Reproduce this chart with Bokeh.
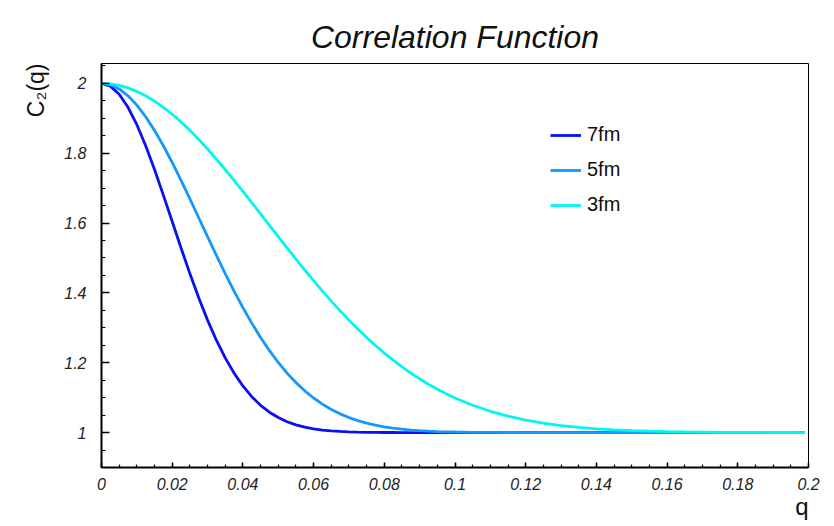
from bokeh.plotting import figure
from bokeh.models import Range1d, FixedTicker, Legend, LegendItem, Title
from bokeh.embed import file_html
from bokeh.resources import INLINE

# ---------------- data ----------------
q = [0, 0.0025, 0.005, 0.0075, 0.01, 0.0125, 0.015, 0.0175, 0.02, 0.0225,
     0.025, 0.0275, 0.03, 0.0325, 0.035, 0.0375, 0.04, 0.0425, 0.045, 0.0475,
     0.05, 0.0525, 0.055, 0.0575, 0.06, 0.0625, 0.065, 0.0675, 0.07, 0.0725,
     0.075, 0.0775, 0.08, 0.0825, 0.085, 0.0875, 0.09, 0.0925, 0.095, 0.0975,
     0.1, 0.105, 0.11, 0.115, 0.12, 0.125, 0.13, 0.135, 0.14, 0.145,
     0.15, 0.155, 0.16, 0.165, 0.17, 0.175, 0.18, 0.185, 0.19, 0.195, 0.199]

c2_7fm = [2.0, 1.9922, 1.9690, 1.9316, 1.8817, 1.8214, 1.7533, 1.6801, 1.6044, 1.5287,
          1.4553, 1.3860, 1.3221, 1.2646, 1.2140, 1.1703, 1.1335, 1.1029, 1.0782, 1.0584,
          1.0430, 1.0311, 1.0222, 1.0156, 1.0108, 1.0073, 1.0049, 1.0032, 1.0021, 1.0013,
          1.0008, 1.0005, 1.0003, 1.0002, 1.0001, 1.0001, 1.0, 1.0, 1.0, 1.0,
          1.0, 1.0, 1.0, 1.0, 1.0, 1.0, 1.0, 1.0, 1.0, 1.0,
          1.0, 1.0, 1.0, 1.0, 1.0, 1.0, 1.0, 1.0, 1.0, 1.0, 1.0]

c2_5fm = [2.0, 1.9960, 1.9841, 1.9645, 1.9378, 1.9045, 1.8655, 1.8215, 1.7735, 1.7225,
          1.6694, 1.6153, 1.5610, 1.5075, 1.4554, 1.4053, 1.3579, 1.3135, 1.2724, 1.2348,
          1.2008, 1.1703, 1.1433, 1.1196, 1.0991, 1.0814, 1.0663, 1.0536, 1.0430, 1.0342,
          1.0270, 1.0211, 1.0164, 1.0126, 1.0097, 1.0073, 1.0055, 1.0041, 1.0030, 1.0022,
          1.0016, 1.0008, 1.0004, 1.0002, 1.0001, 1.0, 1.0, 1.0, 1.0, 1.0,
          1.0, 1.0, 1.0, 1.0, 1.0, 1.0, 1.0, 1.0, 1.0, 1.0, 1.0]

c2_3fm = [2.0, 1.9986, 1.9942, 1.9871, 1.9771, 1.9645, 1.9493, 1.9316, 1.9117, 1.8895,
          1.8655, 1.8396, 1.8121, 1.7833, 1.7534, 1.7224, 1.6908, 1.6586, 1.6261, 1.5935,
          1.5610, 1.5287, 1.4969, 1.4656, 1.4350, 1.4053, 1.3765, 1.3487, 1.3221, 1.2966,
          1.2724, 1.2494, 1.2277, 1.2073, 1.1882, 1.1703, 1.1537, 1.1383, 1.1241, 1.1110,
          1.0991, 1.0782, 1.0610, 1.0470, 1.0358, 1.0270, 1.0201, 1.0148, 1.0108, 1.0077,
          1.0055, 1.0039, 1.0027, 1.0018, 1.0013, 1.0008, 1.0006, 1.0004, 1.0002, 1.0002, 1.0001]

series_names = ["7fm", "5fm", "3fm"]
series_colors = ["#0a10f2", "#1597fb", "#00f5f5"]

x_ticks = [0, 0.02, 0.04, 0.06, 0.08, 0.1, 0.12, 0.14, 0.16, 0.18, 0.2]
x_tick_labels = ["0", "0.02", "0.04", "0.06", "0.08", "0.1", "0.12", "0.14", "0.16", "0.18", "0.2"]
y_ticks = [1, 1.2, 1.4, 1.6, 1.8, 2]
y_tick_labels = ["1", "1.2", "1.4", "1.6", "1.8", "2"]

title_text = "Correlation Function"
x_label = "q"
y_label = "C\u2082(q)"

# ---------------- figure ----------------
FONT = "Liberation Sans"

p = figure(width=834, height=526, output_backend="svg", toolbar_location=None,
           x_range=Range1d(0, 0.2), y_range=Range1d(0.9, 2.057),
           min_border_left=101, min_border_right=26, min_border_top=63, min_border_bottom=59)
p.background_fill_color = "white"
p.border_fill_color = "white"
p.grid.visible = False
p.outline_line_color = "black"
p.outline_line_width = 1

p.title.text = title_text
p.title.align = "center"
p.title.text_font = FONT
p.title.text_font_style = "italic"
p.title.text_font_size = "32px"
p.title.text_color = "#111111"
p.title.standoff = 17

x_minor = [round(i * 0.005, 4) for i in range(0, 41)]
y_minor = [round(0.9 + i * 0.05, 4) for i in range(0, 24)]

p.xaxis.ticker = FixedTicker(ticks=x_ticks, minor_ticks=x_minor)
p.yaxis.ticker = FixedTicker(ticks=y_ticks, minor_ticks=y_minor)
p.xaxis.major_label_overrides = dict(zip(x_ticks, x_tick_labels))
p.yaxis.major_label_overrides = dict(zip(y_ticks, y_tick_labels))

for ax in (p.xaxis, p.yaxis):
    ax.axis_line_width = 2
    ax.axis_line_color = "black"
    ax.major_tick_out = 0
    ax.minor_tick_out = 0
    ax.major_tick_line_color = "black"
    ax.minor_tick_line_color = "black"
    ax.major_tick_line_width = 1.5
    ax.minor_tick_line_width = 1.2
    ax.major_label_text_font = FONT
    ax.major_label_text_font_style = "italic"
    ax.major_label_text_font_size = "16px"
    ax.major_label_text_color = "#222222"

p.xaxis.major_tick_in = 5
p.xaxis.minor_tick_in = 3
p.yaxis.major_tick_in = 8
p.yaxis.minor_tick_in = 4
p.xaxis.major_label_standoff = 10
p.yaxis.major_label_standoff = 15
p.xaxis.major_label_text_line_height = 0.7

# axis titles placed at the far ends of the axes
ytitle = Title(text=y_label, align="right", text_font=FONT, text_font_style="normal",
               text_font_size="23px", text_color="#111111", standoff=25)
p.add_layout(ytitle, "left")
xtitle = Title(text=x_label, align="right", text_font=FONT, text_font_style="normal",
               text_font_size="24px", text_color="#111111", standoff=0,
               vertical_align="top")
p.add_layout(xtitle, "below")

renderers = []
for ys, col in zip([c2_7fm, c2_5fm, c2_3fm], series_colors):
    r = p.line(q, ys, line_color=col, line_width=2.8)
    renderers.append(r)

legend = Legend(items=[LegendItem(label=n, renderers=[r]) for n, r in zip(series_names, renderers)],
                location=(449, 251))
legend.border_line_color = None
legend.background_fill_alpha = 0
legend.padding = 0
legend.margin = 0
legend.spacing = 12
legend.glyph_width = 31
legend.glyph_height = 20
legend.label_height = 20
legend.label_standoff = 6
legend.label_text_font = FONT
legend.label_text_font_size = "20px"
legend.label_text_color = "#111111"
legend.label_text_baseline = "middle"
p.add_layout(legend, "center")

open("out.html", "w").write(file_html(p, INLINE))
